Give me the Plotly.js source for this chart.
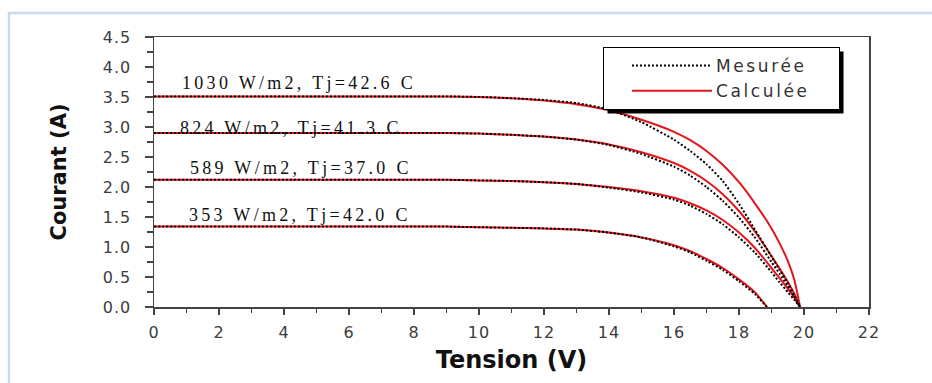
<!DOCTYPE html>
<html><head><meta charset="utf-8">
<script src="https://cdn.plot.ly/plotly-3.0.1.min.js"></script>
<style>
body{margin:0;background:#fff}
#chart{width:932px;height:383px}
.annotation-text{letter-spacing:3.3px}
.legendtext{letter-spacing:2.6px}
.xtick text,.ytick text{letter-spacing:1px}
</style>
</head><body><div id="chart"></div>
<script>
// Voltage grid (V)
const V_high = [0,1,2,3,4,5,6,7,8,9,10,11,12,13,14,15,16,16.5,17,17.5,18,18.5,19,19.25,19.5,19.7,19.88];
const V_353  = [0,1,2,3,4,5,6,7,8,9,10,11,12,13,14,15,16,16.5,17,17.5,18,18.5,18.86];

// 1030 W/m2, Tj=42.6 C
const I1030_mes  = [3.51,3.51,3.51,3.51,3.51,3.51,3.51,3.51,3.51,3.51,3.50,3.48,3.45,3.40,3.29,3.08,2.79,2.60,2.38,2.10,1.72,1.28,0.84,0.62,0.40,0.20,0.00];
const I1030_calc = [3.51,3.51,3.51,3.51,3.51,3.51,3.51,3.51,3.51,3.51,3.50,3.48,3.44,3.38,3.28,3.12,2.92,2.78,2.60,2.37,2.08,1.72,1.31,1.06,0.77,0.46,0.00];
// 824 W/m2, Tj=41.3 C
const I824_mes   = [2.90,2.90,2.90,2.90,2.90,2.90,2.90,2.90,2.90,2.90,2.89,2.87,2.84,2.79,2.70,2.55,2.34,2.19,2.00,1.77,1.49,1.15,0.75,0.55,0.35,0.17,0.00];
const I824_calc  = [2.90,2.90,2.90,2.90,2.90,2.90,2.90,2.90,2.90,2.90,2.89,2.87,2.84,2.79,2.71,2.58,2.40,2.27,2.10,1.88,1.60,1.25,0.85,0.64,0.42,0.22,0.00];
// 589 W/m2, Tj=37.0 C
const I589_mes   = [2.12,2.12,2.12,2.12,2.12,2.12,2.12,2.12,2.12,2.12,2.11,2.10,2.08,2.05,1.99,1.91,1.79,1.69,1.55,1.38,1.16,0.90,0.58,0.41,0.25,0.12,0.00];
const I589_calc  = [2.12,2.12,2.12,2.12,2.12,2.12,2.12,2.12,2.12,2.12,2.11,2.10,2.08,2.05,2.00,1.93,1.82,1.73,1.61,1.45,1.24,0.98,0.65,0.48,0.31,0.16,0.00];
// 353 W/m2, Tj=42.0 C
const I353_mes   = [1.34,1.34,1.34,1.34,1.34,1.34,1.34,1.34,1.34,1.34,1.33,1.32,1.31,1.29,1.24,1.16,1.01,0.91,0.77,0.62,0.43,0.21,0.00];
const I353_calc  = [1.34,1.34,1.34,1.34,1.34,1.34,1.34,1.34,1.34,1.34,1.33,1.32,1.31,1.29,1.24,1.16,1.03,0.93,0.80,0.65,0.46,0.24,0.00];

const curveLabels = ['1030 W/m2, Tj=42.6 C','824 W/m2, Tj=41.3 C','589 W/m2, Tj=37.0 C','353 W/m2, Tj=42.0 C'];
const seriesNames = ['Mesurée','Calculée'];

const RED = '#e3151b';
const NB = '\u00a0\u00a0\u00a0';
const calcSets = [[V_high,I1030_calc],[V_high,I824_calc],[V_high,I589_calc],[V_353,I353_calc]];
const mesSets  = [[V_high,I1030_mes],[V_high,I824_mes],[V_high,I589_mes],[V_353,I353_mes]];

const traces = [];
calcSets.forEach((s,i)=>traces.push({
  x:s[0], y:s[1], type:'scatter', mode:'lines', name:seriesNames[1]+NB,
  legendgroup:'calc', showlegend:i===0, legendrank:2,
  line:{color:RED, width:2, shape:'spline', smoothing:0.5}, hoverinfo:'skip'
}));
mesSets.forEach((s,i)=>traces.push({
  x:s[0], y:s[1], type:'scatter', mode:'lines', name:seriesNames[0]+NB,
  legendgroup:'mes', showlegend:i===0, legendrank:1,
  line:{color:'#000', width:2, dash:'2px,2px', shape:'spline', smoothing:0.5}, hoverinfo:'skip'
}));

const labelPos = [[0.8,3.73],[0.74,2.98],[1.05,2.32],[1.0,1.54]];
const annotations = curveLabels.map((t,i)=>({
  x:labelPos[i][0], y:labelPos[i][1], xref:'x', yref:'y', text:t, showarrow:false,
  xanchor:'left', yanchor:'middle',
  font:{family:'Liberation Serif, Times New Roman, serif', size:18, color:'#111'}
}));

const axisCommon = {
  showline:true, linecolor:'#444', linewidth:1.5, mirror:true,
  showgrid:false, zeroline:false, ticks:'outside', tickcolor:'#444', tickwidth:1.2,
  tickfont:{family:'DejaVu Sans, Arial, sans-serif', size:16, color:'#3c3c3c'}
};

const layout = {
  width:932, height:383,
  margin:{l:154, r:63, t:37, b:76},
  paper_bgcolor:'#fff', plot_bgcolor:'#fff',
  xaxis: Object.assign({}, axisCommon, {
    range:[0,22], tickmode:'linear', tick0:0, dtick:2, ticklen:6,
    minor:{dtick:1, ticklen:4, ticks:'outside', tickcolor:'#444'},
    ticklabelstandoff:4,
    title:{text:'Tension (V)', standoff:10, font:{family:'DejaVu Sans, Arial, sans-serif', size:24, color:'#111', weight:'bold'}}
  }),
  yaxis: Object.assign({}, axisCommon, {
    range:[0,4.5], tickmode:'linear', tick0:0, dtick:0.5, tickformat:'.1f', ticklen:8,
    minor:{dtick:0.25, ticklen:6, ticks:'outside', tickcolor:'#444'},
    ticklabelstandoff:10,
    title:{text:'Courant (A)', standoff:30, font:{family:'DejaVu Sans, Arial, sans-serif', size:21, color:'#111', weight:'bold'}}
  }),
  legend:{
    x:0.628, y:0.963, xanchor:'left', yanchor:'top',
    bgcolor:'#fff', bordercolor:'#000', borderwidth:1,
    itemwidth:102, tracegroupgap:0,
    font:{family:'DejaVu Sans, Arial, sans-serif', size:17, color:'#333'}
  },
  annotations: annotations,
  shapes:[
    {type:'rect', xref:'paper', yref:'paper', x0:-0.2028, x1:1.3, y0:-0.6, y1:1.0889,
     line:{color:'#c6d9f0', width:2.5}, fillcolor:'rgba(0,0,0,0)', layer:'below'}
  ],
  showlegend:true
};

Plotly.newPlot('chart', traces, layout, {displayModeBar:false, staticPlot:true}).then(()=>{
  document.querySelectorAll('.legend .legendlines path').forEach(p=>p.setAttribute('d','M28,0h80'));
  // legend drop shadow, placed behind the legend background
  const bg = document.querySelector('.legend rect.bg');
  if(bg){
    const bb = bg.getBBox();
    const r = document.createElementNS('http://www.w3.org/2000/svg','rect');
    r.setAttribute('x', bb.x + 4);
    r.setAttribute('y', bb.y + 4);
    r.setAttribute('width', bb.width);
    r.setAttribute('height', bb.height);
    r.setAttribute('fill', '#000');
    bg.parentNode.insertBefore(r, bg);
  }
});
</script>
</body></html>
